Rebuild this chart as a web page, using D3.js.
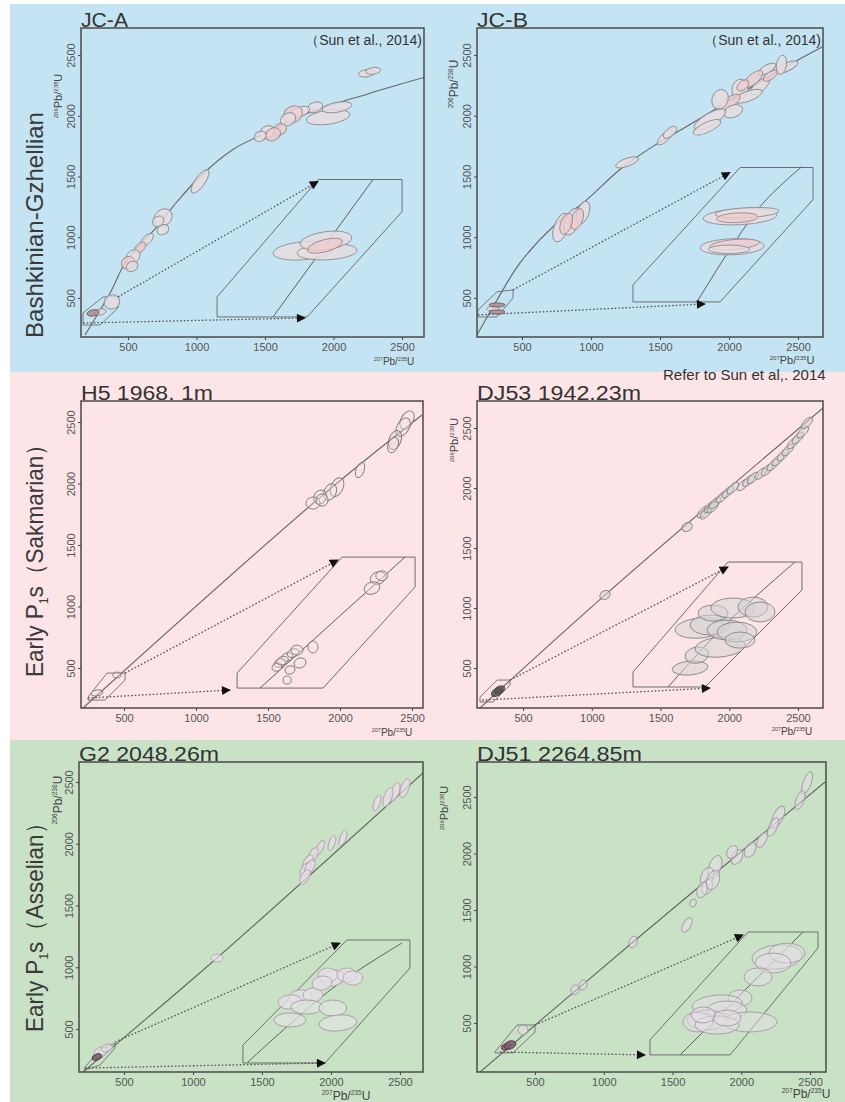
<!DOCTYPE html>
<html><head><meta charset="utf-8">
<script src="https://cdn.jsdelivr.net/npm/d3@7"></script>
<style>body{margin:0;background:#fff}svg{display:block}text{font-family:"Liberation Sans",Arial,sans-serif}</style>
</head><body><svg id="c" width="845" height="1102"></svg>
<script>
// ---------------- DATA ----------------
const xTicks = [500, 1000, 1500, 2000, 2500];
const yTicks = [500, 1000, 1500, 2000, 2500];
const rowLabels = [["Bashkinian-Gzhellian", "", ""], ["Early P", "1", "s（Sakmarian）"], ["Early P", "1", "s（Asselian）"]];
const titles = ["JC-A", "JC-B", "H5  1968. 1m", "DJ53  1942.23m", "G2  2048.26m", "DJ51  2264.85m"];
const refText = "（Sun et al., 2014)";
const referNote = "Refer  to Sun et al,. 2014";
const yLabelParts = ["206", "Pb/", "238", "U"];
const xLabelParts = ["207", "Pb/", "235", "U"];

// concordia curves [207Pb/235U age, 206Pb/238U age]
const jcaConc = [[186,194],[369,541],[493,814],[712,1087],[828,1252],[1026,1500],[1266,1723],[1515,1864],[1755,1996],[1996,2095],[2245,2178],[2485,2260],[2668,2318]];
const jcbConc = [[174,194],[319,483],[486,789],[725,1087],[971,1310],[1210,1558],[1449,1748],[1696,1913],[1935,2078],[2174,2244],[2420,2409],[2674,2566]];
const h5Conc = [[215,175],[1840,1866],[2569,2557]];
const dj53Conc = [[187,167],[1096,1108],[2682,2667]];
const g2Conc = [[203,152],[1174,1075],[2667,2573]];
const dj51Conc = [[100,66],[1213,1217],[2609,2633]];

// ellipses [x, y, x-error, y-error, tilt, kind]
const jcaEll = [[2240,2350,60,30,-8,0],[2290,2370,55,28,-8,0],[1960,1988,160,58,-8,0],[2025,2070,110,41,-10,0],[1865,2070,58,41,-20,0],[1750,2030,80,40,-20,0],[1704,2012,73,66,-30,1],[1668,1971,58,50,-30,0],[1609,1888,50,45,-30,1],[1515,1864,58,50,-30,0],[1558,1847,58,50,-30,1],[1464,1830,45,40,-30,0],[1026,1459,102,41,-55,0],[755,1161,73,66,-40,0],[720,1130,45,40,-40,0],[755,1062,45,40,-30,0],[639,979,58,33,-45,0],[588,913,50,33,-45,1],[536,839,58,50,-45,0],[500,789,50,50,-30,1],[530,760,45,40,-30,0],[383,467,58,58,-20,0],[296,384,44,25,-10,0],[245,376,44,25,-10,2]];
const jcaInsetEll = [[1777,888,219,74,-5,0],[1953,880,219,66,-3,0],[1945,971,190,74,-8,0],[1938,930,131,50,-15,1]];
const jcbEll = [[2275,2384,72,33,-30,0],[2420,2401,87,33,-25,0],[2380,2420,36,80,10,0],[2174,2302,87,41,-40,1],[2225,2244,87,41,-40,0],[2080,2219,58,83,10,0],[2138,2161,109,41,-20,0],[2007,2112,87,41,-35,1],[1935,2136,58,83,20,0],[2029,2037,72,50,-20,0],[1862,1971,130,50,-30,0],[1841,1905,109,41,-25,0],[2300,2330,60,30,-35,1],[2100,2250,50,35,-40,1],[1536,1822,72,33,-45,0],[1572,1864,58,33,-40,0],[1261,1616,87,33,-20,0],[783,1079,51,124,20,0],[862,1128,51,116,20,0],[942,1202,43,99,20,0],[900,1150,40,90,20,1],[820,1110,40,90,20,1],[290,410,45,20,0,0],[319,442,58,17,0,2],[319,384,58,17,0,2]];
const jcbInsetEll = [[2080,1169,268,66,-3,0],[2130,1202,232,41,-3,0],[2060,1160,150,40,-3,1],[2022,921,232,66,-2,0],[2040,940,180,41,-5,1],[2000,900,150,35,0,0]];
const h5Ell = [[2465,2516,42,81,30,0],[2438,2459,42,81,30,0],[2382,2354,42,81,20,1],[2368,2313,35,65,20,0],[2139,2110,28,65,20,0],[1979,1971,42,81,25,0],[1931,1931,42,70,25,0],[1861,1890,42,60,30,0],[1812,1841,49,49,0,0],[1875,1866,42,50,20,0],[312,297,42,24,-10,0],[451,443,28,24,0,0]];
const h5InsetEll = [[2264,1232,56,49,-20,0],[2222,1150,56,49,-20,0],[2290,1250,42,40,0,0],[1812,671,35,49,0,0],[1632,589,42,33,-20,0],[1674,622,42,33,-20,0],[1583,541,42,33,-20,0],[1722,541,42,40,-20,0],[1653,484,35,33,-20,0],[1632,402,28,33,0,0],[1562,508,35,33,-20,0],[1701,646,42,40,0,0],[1600,560,42,33,-20,0]];
const dj53Ell = [[1809,1800,55,28,-45,0],[1830,1790,55,28,-45,0],[1860,1842,55,28,-45,0],[1880,1840,55,28,-45,0],[1896,1875,55,28,-45,0],[1947,1925,55,28,-45,0],[1991,1967,55,28,-45,0],[2027,2000,55,28,-45,0],[2100,2025,55,28,-45,0],[2140,2060,55,28,-45,0],[2173,2083,55,28,-45,0],[2230,2120,55,28,-45,0],[2275,2150,55,28,-45,0],[2318,2192,55,28,-45,0],[2355,2233,55,28,-45,0],[2391,2275,55,28,-45,0],[2427,2317,55,28,-45,0],[2464,2375,55,28,-45,0],[2500,2417,55,28,-45,0],[2536,2467,55,28,-45,0],[2565,2542,55,28,-45,0],[1693,1675,40,35,-30,0],[1096,1108,40,35,-30,0],[311,300,45,30,-30,2],[330,320,40,28,-30,2]];
const dj53InsetEll = [[1715,500,131,58,-5,0],[1765,608,87,67,-10,0],[1933,675,182,83,-5,0],[1787,833,182,83,-5,0],[1860,858,145,83,0,0],[1984,817,145,83,0,0],[2056,800,145,83,0,0],[1882,958,109,67,0,0],[2027,1000,160,83,0,0],[2173,1008,109,83,0,0],[2224,967,109,83,0,0],[2078,733,109,67,0,0]];
const g2Ell = [[1174,1075,43,32,0,0],[2536,2451,29,81,20,0],[2464,2419,29,81,20,0],[2413,2378,29,81,20,0],[2333,2330,22,65,20,0],[2087,2047,22,65,20,0],[2007,2006,22,65,20,0],[1920,1966,22,65,25,0],[1870,1909,29,65,30,0],[1833,1852,29,65,30,0],[1812,1787,29,65,30,0],[1848,1812,29,65,30,0],[1812,1731,29,65,30,0],[330,310,50,40,-30,0],[377,346,40,30,-20,0],[304,273,36,24,-20,2]];
const g2InsetEll = [[1775,759,87,57,-5,0],[1703,719,87,57,-5,0],[1870,775,72,57,0,0],[2014,913,87,65,-10,0],[1978,937,72,57,0,0],[2116,937,72,57,0,0],[2159,913,72,57,0,0],[1935,872,72,57,-10,0],[1826,678,116,57,0,1],[2014,670,101,65,0,1],[1703,573,116,57,0,1],[2051,549,138,65,-5,1]];
const dj51Ell = [[2478,2624,29,106,20,0],[2427,2473,29,88,20,0],[2267,2323,36,106,25,0],[2231,2235,29,88,25,0],[2151,2119,29,71,30,0],[2064,2031,36,71,30,0],[1969,1969,36,71,30,0],[1933,2013,36,60,30,0],[1809,1881,44,106,20,0],[1751,1792,44,88,20,0],[1751,1704,36,71,20,0],[1715,1677,36,71,20,0],[1795,1765,44,88,20,0],[1649,1562,22,35,20,0],[1605,1367,29,71,30,0],[1213,1217,29,53,20,0],[849,836,29,44,20,0],[791,792,29,44,20,0],[413,438,36,44,20,0],[290,290,36,27,-20,2],[318,305,44,35,-20,2]];
const dj51InsetEll = [[2260,1084,182,106,-5,0],[2333,1119,131,88,0,0],[2231,1031,131,88,0,0],[2122,907,102,80,0,0],[1991,721,87,71,0,0],[1824,659,182,88,-5,0],[1896,615,145,80,0,0],[2064,509,196,88,0,0],[1751,527,145,88,0,0],[1685,509,109,88,0,0],[1824,482,160,80,0,0],[1896,544,102,71,0,0],[1722,571,87,71,0,0]];

// zoom boxes, inset frames, inset concordia, arrows (data coordinates)
const jcaBox = [[172,376],[318,508],[427,508],[427,417],[296,277],[172,277]];
const jcbBox = [[181,401],[319,550],[435,566],[435,500],[319,343],[181,343]];
const h5Box = [[250,264],[382,459],[507,459],[507,402],[368,240],[250,240]];
const dj53Box = [[187,258],[311,400],[405,400],[405,358],[282,217],[187,217]];
const g2Box = [[217,192],[326,330],[435,387],[435,346],[326,208],[217,168]];
const dj51Box = [[209,243],[369,482],[500,482],[500,420],[340,235],[209,235]];

const jcaInset = [[1150,508],[1150,343],[1807,343],[2500,1211],[2500,1475],[1887,1475]];
const jcbInset = [[1304,607],[1304,467],[1935,467],[2609,1310],[2609,1574],[2080,1574]];
const h5Inset = [[1285,459],[1285,337],[1882,337],[2521,1159],[2521,1402],[2014,1402]];
const dj53Inset = [[1300,467],[1300,342],[1824,342],[2529,1150],[2529,1383],[1991,1383]];
const g2Inset = [[1362,370],[1362,225],[1957,225],[2572,994],[2572,1221],[2116,1221]];
const dj51Inset = [[1336,350],[1336,217],[1918,217],[2558,1164],[2558,1305],[2049,1305]];

const jcaInsetLine = [[1558,343],[2288,1475]];
const jcbInsetLine = [[1768,467],[2225,1252],[2529,1582]];
const h5InsetLine = [[1444,337],[2451,1402]];
const dj53InsetLine = [[1555,342],[1984,875],[2478,1383]];
const g2InsetLine = [[1391,225],[2014,832],[2514,1196]];
const dj51InsetLine = [[1555,217],[2449,1305]];

const jcaArrows = [[427,508,1887,1459],[172,293,1792,335]];
const jcbArrows = [[435,566,2007,1533],[181,360,1826,450]];
const h5Arrows = [[507,459,1986,1378],[250,256,1236,321]];
const dj53Arrows = [[405,400,1991,1342],[202,233,1860,333]];
const g2Arrows = [[435,395,2065,1196],[217,184,1957,225]];
const dj51Arrows = [[500,482,2013,1279],[245,243,1300,217]];

// ---------------- LAYOUT / STYLE ----------------
const bands = [{y0:4, y1:372, c:"#c4e4f3"}, {y0:372, y1:740, c:"#fde4e6"}, {y0:740, y1:1102, c:"#c9e2c6"}];
const rowLabelPos = [{x:43, y:225, len:226}, {x:43, y:555, len:244}, {x:43, y:922, len:220}];
const blueStyle = {fill:["#e7dcdf","#ecccd0","#b08a8f"], stroke:["#8e8e8e","#a08888","#6e5a5e"], op:0.8};
const panels = [
 {id:0, l:81, r:424, t:28, b:337, xd:[157,2660], yd:[178,2723], conc:jcaConc, ell:jcaEll, iell:jcaInsetEll, box:jcaBox, inset:jcaInset, iline:jcaInsetLine, arrows:jcaArrows, st:blueStyle, titleLen:47, ref:true, yl:[62,96,11], xl:[394,365,10]},
 {id:1, l:477, r:823, t:28, b:337, xd:[174,2681], yd:[178,2723], conc:jcbConc, ell:jcbEll, iell:jcbInsetEll, box:jcbBox, inset:jcbInset, iline:jcbInsetLine, arrows:jcbArrows, st:blueStyle, titleLen:51, ref:true, yl:[458,84,12], xl:[792,364,11]},
 {id:2, l:81, r:423, t:401, b:708, xd:[201,2576], yd:[175,2671], conc:h5Conc, ell:h5Ell, iell:h5InsetEll, box:h5Box, inset:h5Inset, iline:h5InsetLine, arrows:h5Arrows, st:{fill:["#f3e6e8","#d9c4c8","#999"], stroke:["#7a7a7a","#8a6f75","#555"], op:0.35}, titleLen:132, yl:null, xl:[392,736,10]},
 {id:3, l:477, r:823, t:401, b:708, xd:[165,2682], yd:[167,2725], conc:dj53Conc, ell:dj53Ell, iell:dj53InsetEll, box:dj53Box, inset:dj53Inset, iline:dj53InsetLine, arrows:dj53Arrows, st:{fill:["#d6d4d4","#d6d4d4","#555"], stroke:["#858585","#858585","#444"], op:0.55}, titleLen:164, yl:[458,440,11], xl:[792,735,10]},
 {id:4, l:79, r:423, t:762, b:1072, xd:[174,2667], yd:[152,2662], conc:g2Conc, ell:g2Ell, iell:g2InsetEll, box:g2Box, inset:g2Inset, iline:g2InsetLine, arrows:g2Arrows, st:{fill:["#e6e0e8","#e1e4df","#6a5a62"], stroke:["#b99fb0","#9d9d9d","#4a3a42"], op:0.7}, titleLen:140, yl:[62,800,12], xl:[346,1100,12]},
 {id:5, l:477, r:826, t:762, b:1072, xd:[78,2616], yd:[66,2810], conc:dj51Conc, ell:dj51Ell, iell:dj51InsetEll, box:dj51Box, inset:dj51Inset, iline:dj51InsetLine, arrows:dj51Arrows, st:{fill:["#e4dde4","#e4dde4","#7a5a6a"], stroke:["#a697a6","#a697a6","#5a3a4a"], op:0.5}, titleLen:165, yl:[448,808,11], xl:[806,1098,12]}
];

// ---------------- DRAW ----------------
const svg = d3.select("#c");
const defs = svg.append("defs");
defs.append("marker").attr("id","arr").attr("viewBox","0 0 10 10").attr("refX",9).attr("refY",5)
  .attr("markerWidth",10).attr("markerHeight",9).attr("markerUnits","userSpaceOnUse").attr("orient","auto")
  .append("path").attr("d","M0,0L10,5L0,10z").attr("fill","#111");

svg.selectAll("rect.band").data(bands).join("rect").attr("class","band")
  .attr("x",10).attr("y",d=>d.y0).attr("width",835).attr("height",d=>d.y1-d.y0).attr("fill",d=>d.c);

// row labels
rowLabels.forEach((parts,i)=>{
  const p = rowLabelPos[i];
  const t = svg.append("text").attr("transform",`translate(${p.x},${p.y}) rotate(-90)`)
    .attr("text-anchor","middle").attr("font-size",24).attr("fill","#3a3a3a")
    .attr("textLength",p.len).attr("lengthAdjust","spacingAndGlyphs");
  t.append("tspan").text(parts[0]);
  if (parts[1]) {
    t.append("tspan").attr("font-size",13).attr("dy",5).text(parts[1]);
    t.append("tspan").attr("dy",-5).text(parts[2]);
  }
});

function isoText(g, x, y, rot, parts, size){
  const t = g.append("text").attr("transform",`translate(${x},${y})${rot?" rotate(-90)":""}`)
    .attr("text-anchor","middle").attr("fill","#444").attr("font-size",size);
  const s = size*0.55, up = size*0.38;
  t.append("tspan").attr("font-size",s).attr("dy",-up).text(parts[0]);
  t.append("tspan").attr("dy",up).text(parts[1]);
  t.append("tspan").attr("font-size",s).attr("dy",-up).text(parts[2]);
  t.append("tspan").attr("dy",up).text(parts[3]);
}

panels.forEach((p,i)=>{
  const x = d3.scaleLinear().domain(p.xd).range([p.l,p.r]);
  const y = d3.scaleLinear().domain(p.yd).range([p.b,p.t]);
  const g = svg.append("g");
  defs.append("clipPath").attr("id","cl"+p.id).append("rect")
    .attr("x",p.l).attr("y",p.t).attr("width",p.r-p.l).attr("height",p.b-p.t);
  const pg = g.append("g").attr("clip-path",`url(#cl${p.id})`);
  const line = d3.line().x(d=>x(d[0])).y(d=>y(d[1]));

  // concordia
  pg.append("path").datum(p.conc).attr("d",line.curve(d3.curveCatmullRom)).attr("fill","none")
    .attr("stroke","#666").attr("stroke-width",1.1);
  line.curve(d3.curveLinear);
  // zoom box & inset frame
  pg.append("path").datum(p.box).attr("d",d=>line(d)+"Z").attr("fill","none").attr("stroke","#6e6e6e").attr("stroke-width",0.9);
  pg.append("path").datum(p.inset).attr("d",d=>line(d)+"Z").attr("fill","none").attr("stroke","#6e6e6e").attr("stroke-width",1);
  pg.append("path").datum(p.iline).attr("d",line.curve(d3.curveCatmullRom)).attr("fill","none").attr("stroke","#5e5e5e").attr("stroke-width",1);
  line.curve(d3.curveLinear);
  // dotted arrows
  pg.selectAll("line.arr").data(p.arrows).join("line").attr("class","arr")
    .attr("x1",d=>x(d[0])).attr("y1",d=>y(d[1])).attr("x2",d=>x(d[2])).attr("y2",d=>y(d[3]))
    .attr("stroke","#555").attr("stroke-width",1.3).attr("stroke-dasharray","1.6,2").attr("marker-end","url(#arr)");
  // ellipses
  const drawEll = (data)=> pg.append("g").selectAll("ellipse").data(data).join("ellipse")
    .attr("transform",d=>`translate(${x(d[0])},${y(d[1])}) rotate(${d[4]})`)
    .attr("rx",d=>x(d[0]+d[2])-x(d[0])).attr("ry",d=>y(d[1])-y(d[1]+d[3]))
    .attr("fill",d=>p.st.fill[d[5]]).attr("fill-opacity",d=>d[5]===2?0.85:p.st.op)
    .attr("stroke",d=>p.st.stroke[d[5]]).attr("stroke-width",0.9);
  drawEll(p.ell);
  drawEll(p.iell);

  // axes
  const fmt = d3.format("d");
  const ax = g.append("g").attr("transform",`translate(0,${p.b})`)
    .call(d3.axisBottom(x).tickValues(xTicks).tickFormat(fmt).tickSize(3).tickSizeOuter(0));
  const ay = g.append("g").attr("transform",`translate(${p.l},0)`)
    .call(d3.axisLeft(y).tickValues(yTicks).tickFormat(fmt).tickSize(3).tickSizeOuter(0));
  [ax,ay].forEach(a=>{
    a.select(".domain").remove();
    a.selectAll("line").attr("stroke","#444");
    a.selectAll("text").attr("font-family","'Liberation Sans',Arial,sans-serif").attr("font-size",11).attr("fill","#555");
  });
  ax.selectAll("text").attr("y",6);
  ay.selectAll("text").attr("transform","rotate(-90)").attr("x",0).attr("y",-6).attr("dy",0).attr("text-anchor","middle");

  // frame
  g.append("rect").attr("x",p.l).attr("y",p.t).attr("width",p.r-p.l).attr("height",p.b-p.t)
    .attr("fill","none").attr("stroke","#4a4a4a").attr("stroke-width",1.5);

  // texts
  g.append("text").attr("x",p.l).attr("y",p.t-1).attr("font-size",20).attr("fill","#333")
    .attr("textLength",p.titleLen).attr("lengthAdjust","spacingAndGlyphs").text(titles[i]);
  if (p.ref) g.append("text").attr("x",p.r-2).attr("y",p.t+17).attr("text-anchor","end")
    .attr("font-size",14).attr("fill","#333").text(refText);
  if (p.yl) isoText(g, p.yl[0], p.yl[1], true, yLabelParts, p.yl[2]);
  isoText(g, p.xl[0], p.xl[1], false, xLabelParts, p.xl[2]);
});

svg.append("text").attr("x",663).attr("y",380).attr("font-size",15).attr("fill","#333").text(referNote);
</script></body></html>
